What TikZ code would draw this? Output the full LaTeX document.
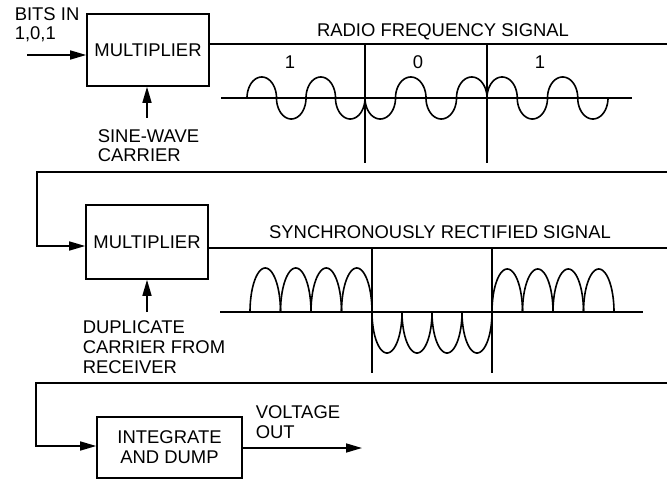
\documentclass[tikz,border=0pt]{standalone}
\usepackage{fontspec}
\setmainfont{Liberation Sans}
\usetikzlibrary{arrows.meta}
\begin{document}
\begin{tikzpicture}[x=1bp,y=-1bp,line width=1.6bp,
  box/.style={draw,rectangle,inner sep=0pt,align=center,font=\fontsize{18.5}{20}\selectfont},
  lbl/.style={inner sep=0pt,font=\fontsize{18.5}{20}\selectfont,align=left,anchor=base west},
  ttl/.style={inner sep=0pt,font=\fontsize{18.5}{20}\selectfont,anchor=base},
  arr/.style={-{Triangle[length=16bp,width=9bp]}},
  wave/.style={line width=1.6bp,line cap=round,line join=round}]
\useasboundingbox (0,0) rectangle (667,480);

% boxes
\node[box,minimum width=122bp,minimum height=72bp] (m1) at (148,50) {MULTIPLIER};
\node[box,minimum width=122bp,minimum height=74bp] (m2) at (147,242) {MULTIPLIER};
\node[box,minimum width=145bp,minimum height=61bp] (m3) at (169.5,447.5) {INTEGRATE\\AND DUMP};

% labels (anchored at the baseline of the last line)
\node[lbl] (bits) at (14,40) {BITS IN\\1,0,1};
\node[lbl] (sine) at (97,162) {SINE-WAVE\\CARRIER};
\node[lbl] (dup) at (82,373) {DUPLICATE\\CARRIER FROM\\RECEIVER};
\node[lbl] (volt) at (255,438) {VOLTAGE\\OUT};
\node[ttl] (rf) at (443,37) {RADIO FREQUENCY SIGNAL};
\node[ttl] (sr) at (440,239) {SYNCHRONOUSLY RECTIFIED SIGNAL};
\node[ttl] (b1) at (290,69) {1};
\node[ttl] (b0) at (418,69) {0};
\node[ttl] (b2) at (540,69) {1};

% coordinates
\coordinate (in1) at (27,55);
\coordinate (c1) at (147,118);
\coordinate (o1) at (667,44);
\coordinate (r1) at (667,172);
\coordinate (t1) at (37,172);
\coordinate (in2) at (86,246);
\coordinate (c2) at (147,312);
\coordinate (o2) at (667,248);
\coordinate (r2) at (667,383);
\coordinate (t2) at (36,383);
\coordinate (in3) at (97,446);
\coordinate (v) at (362,448);

% connectors
\draw[arr] (in1) -- (m1.west |- in1);
\draw[arr] (c1) -- (c1 |- m1.south);
\draw (m1.east |- o1) -- (o1);
\draw[arr] (r1) -- (t1) |- (m2.west |- in2);
\draw[arr] (c2) -- (c2 |- m2.south);
\draw (m2.east |- o2) -- (o2);
\draw[arr] (r2) -- (t2) |- (m3.west |- in3);
\draw[arr] (m3.east |- v) -- (v);

% row 1 signal
\draw (221,98) -- (632,98);
\draw (365,44) -- (365,163);
\draw (487,44) -- (487,163);
\foreach \xa/\ww/\am in {247/29.5/21, 276.5/29.5/-21, 306/29.5/21, 335.5/29.5/-21,
  365/30.5/-21, 395.5/30.5/21, 426/30.5/-21, 456.5/30.5/21,
  487/30.25/21, 517.25/30.25/-21, 547.5/30.25/21, 577.75/30.25/-21}
  \draw[wave] plot[domain=0:180,samples=40] ({\xa+\ww/2-\ww/2*cos(\x)},{98-(\am)*sin(\x)});

% row 2 signal
\draw (220,312) -- (643,312);
\draw (372,249) -- (372,373);
\draw (492,249) -- (492,373);
\foreach \xa/\ww/\am in {250/30.5/44, 280.5/30.5/44, 311/30.5/44, 341.5/30.5/44,
  372/30/-41, 402/30/-41, 432/30/-41, 462/30/-41,
  492/30.5/43, 522.5/30.5/43, 553/30.5/43, 583.5/30.5/43}
  \draw[wave] plot[domain=0:180,samples=40] ({\xa+\ww/2-\ww/2*cos(\x)},{312-(\am)*sin(\x)});
\end{tikzpicture}
\end{document}
